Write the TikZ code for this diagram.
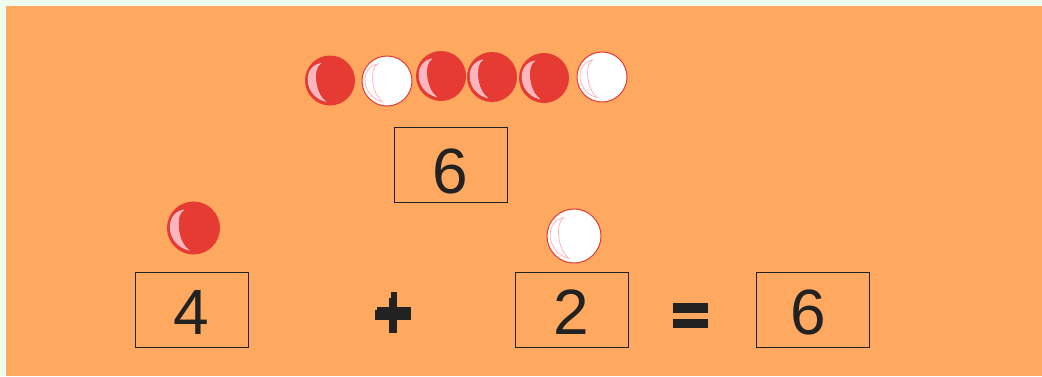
\documentclass[tikz,border=0pt]{standalone}
\usepackage{fontspec}
\setmainfont{Liberation Sans}
\definecolor{bg}{HTML}{FFA860}
\definecolor{frame}{HTML}{EEFDEE}
\definecolor{ballred}{HTML}{E53B33}
\definecolor{pinkhl}{HTML}{FFB5BD}
\definecolor{ink}{HTML}{222222}
\tikzset{
  numbox/.style={draw=ink, line width=1pt, minimum width=113pt, minimum height=75pt,
    inner sep=0pt, text=ink, font=\fontsize{64}{64}\selectfont,
    text depth=0pt, text height=49pt},
  redball/.pic={
    \fill[ballred] (0,0) circle (25);
    \filldraw[fill=pinkhl, draw=pinkhl!70!white, line width=0.5pt]
      (-9.5,-17) .. controls (-27.5,-13.75) and (-26.25,15) .. (-4.75,20.75)
      .. controls (-15.5,12.5) and (-17.5,-12.5) .. (-9.5,-17) -- cycle;
  },
  whiteball/.pic={
    \filldraw[fill=white, draw=ballred, line width=1pt] (0,0) circle (25);
    \draw[pinkhl, line width=0.8pt]
      (-9.5,-17) .. controls (-27.5,-13.75) and (-26.25,15) .. (-4.75,20.75)
      .. controls (-15.5,12.5) and (-17.5,-12.5) .. (-9.5,-17) -- cycle;
  },
  glyph/.style={fill=ink}
}
\begin{document}
\begin{tikzpicture}[x=1pt,y=-1pt]
\useasboundingbox (0,0) rectangle (1042,376);
\fill[frame] (0,0) rectangle (1042,376);
\fill[bg] (6,6) rectangle (1042,376);

% top row of balls
\pic at (330,80.5) {redball};
\pic at (387,81) {whiteball};
\pic at (441,76) {redball};
\pic at (492,77) {redball};
\pic at (544,78) {redball};
\pic at (602,77) {whiteball};

% total box
\node[numbox, text height=58pt] (total) at (450.5,164.5) {6};

% lower balls
\pic[scale=1.06] at (193.5,228) {redball};
\pic[scale=1.08] at (574,236) {whiteball};

% equation boxes
\node[numbox] (four) at (191.5,309.5) {4};
\node[numbox] (two) at (571.5,309.5) {2};
\node[numbox, text height=50pt] (six) at (812.5,309.5) {\hspace*{-9pt}6};

% plus sign
\fill[glyph] (391,292) rectangle (397,299);
\fill[glyph] (389,298) rectangle (397,333);
\fill[glyph] (375,310) rectangle (411,320);
\fill[glyph] (377,307) rectangle (411,311);

% equals sign
\fill[glyph] (673,303) rectangle (708,313);
\fill[glyph] (673,319) rectangle (708,328);
\end{tikzpicture}
\end{document}
